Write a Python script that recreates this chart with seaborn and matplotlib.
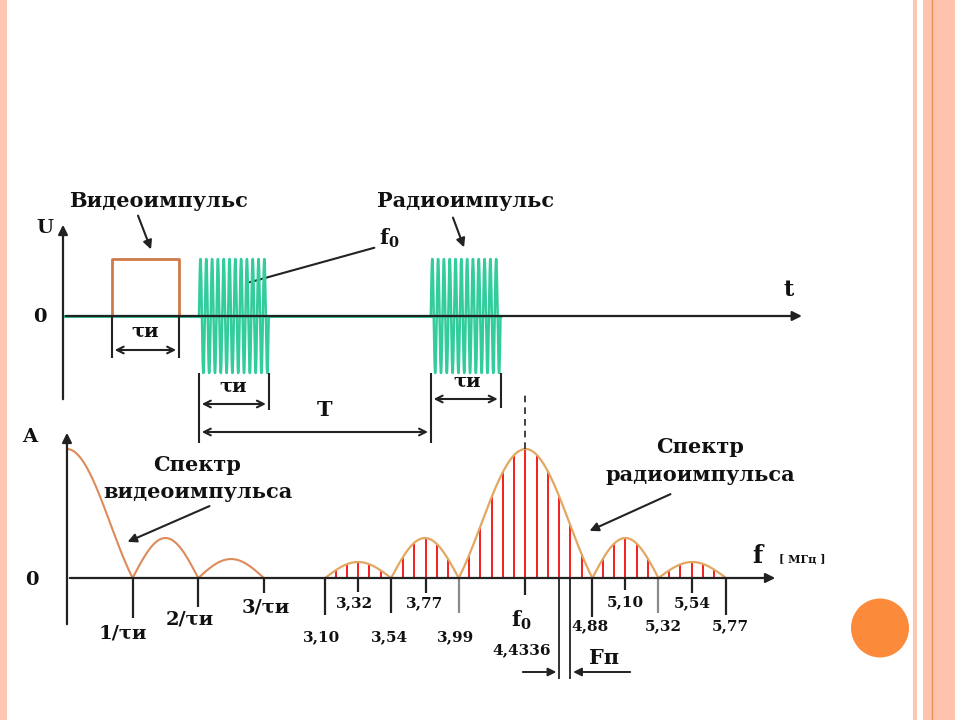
# Video pulse / radio pulse and their spectra (slide diagram)
import numpy as np
import matplotlib
matplotlib.use("Agg")
import matplotlib.pyplot as plt
from matplotlib.patches import Ellipse
import seaborn as sns

# ---------------- data ----------------
# time diagram: time in units of the pulse length τи, amplitude in units of U
VIDEO_PULSE = [0.73, 1.73]           # start / end of the video pulse
PULSE_HEIGHT = 1.0
BURST_STARTS = [2.03, 5.49]          # the two radio pulses (period T between them)
BURST_LENGTH = 1.04
BURST_CYCLES = 12                    # carrier periods drawn in one burst
TIME_AXIS_END = 11.07

# spectrum of the video pulse, x in multiples of 1/τи
VIDEO_ZEROS = [0, 1, 2, 3]
VIDEO_LOBE_PEAKS = [1.0, 0.31, 0.147]
VIDEO_TICK_LABELS = ["1/τи", "2/τи", "3/τи"]

# spectrum of the radio pulse, MHz
RADIO_ZEROS = [3.10, 3.54, 3.99, 4.88, 5.32, 5.77]
RADIO_CENTERS = [3.32, 3.77, 4.4336, 5.10, 5.54]
RADIO_LOBE_PEAKS = [0.124, 0.31, 1.0, 0.31, 0.124]
RADIO_LINES_PER_SIDE = [2, 2, 5, 2, 2]
F_REP = 0.075                        # spacing of the spectral lines, Fп
F0 = 4.4336
FREQ_TICKS = [3.10, 3.32, 3.54, 3.77, 3.99, 4.4336, 4.88, 5.10, 5.32, 5.54, 5.77]
FREQ_TICK_LABELS = ["3,10", "3,32", "3,54", "3,77", "3,99", "4,4336",
                    "4,88", "5,10", "5,32", "5,54", "5,77"]

# ---------------- layout (pixels of the 955x720 slide) ----------------
W, H = 955, 720
TOP_X0, TOP_SX, TOP_Y0, TOP_SY = 63, 67.0, 316, 57.0
BOT_X0, BOT_SX, BOT_Y0, BOT_SY = -140.6, 150.2, 578, 129.0
VIDEO_X0 = 1.382        # where f = 0 of the video spectrum sits on the drawn axis
INV_TAU = 0.437         # drawn width of 1/τи on that axis

VIDEO_TICK_BOTTOM = [618, 607, 593]
VIDEO_LABEL_POS = [(123, 634), (190, 620), (266, 608)]
FREQ_TICK_BOTTOM = [615, 592, 613, 593, 613, 595, 617, 590, 613, 593, 615]
FREQ_TICK_GREY = [False, False, False, False, True, False, False, False, True, False, False]
FREQ_LABEL_Y = [637, 603, 637, 603, 637, 650, 626, 602, 626, 603, 626]
FREQ_LABEL_DX = [-3, -4, -2, -1, -3, -4, -2, 0, 5, 1, 4]

GREEN = "#33cc9c"
RECT_C = "#cf7a4a"
VIDEO_C = "#dc8b5a"
ENV_C = "#e2a862"
RED = "#f41e1e"
AX_C = "#222222"
PEACH = "#ffc6b2"

sns.set_style("white")
plt.rcParams["font.family"] = ["DejaVu Serif"]
plt.rcParams["font.weight"] = "bold"
plt.rcParams["text.color"] = "#111111"
plt.rcParams["mathtext.fontset"] = "dejavuserif"

fig = plt.figure(figsize=(W / 100, H / 100), dpi=100)


def overlay(x0, sx, y0, sy):
    """Transparent full-slide axes: data (0, 0) at pixel (x0, y0), sx/sy px per unit."""
    ax = fig.add_axes([0, 0, 1, 1])
    ax.set_xlim(-x0 / sx, (W - x0) / sx)
    ax.set_ylim(-(H - y0) / sy, y0 / sy)
    ax.axis("off")
    ax.patch.set_alpha(0)
    return ax


def ty(py):
    return (TOP_Y0 - py) / TOP_SY


def fy(py):
    return (BOT_Y0 - py) / BOT_SY


def fx(px):
    return (px - BOT_X0) / BOT_SX


def lobe_shape(x, a, b, main):
    u = (x - a) / (b - a)
    if main:
        return np.sinc(2 * u - 1)
    return np.sin(np.pi * u)


# background slide decoration (pixel coordinates)
bg = fig.add_axes([0, 0, 1, 1])
bg.set_xlim(0, W)
bg.set_ylim(H, 0)
bg.axis("off")
bg.axvspan(0, 7, color=PEACH, lw=0)
bg.axvspan(913, 917, color=PEACH, lw=0)
bg.axvspan(923, W, color="#ffc3ad", lw=0)
bg.axvline(931.5, color="#e39452", lw=1.0)
bg.add_patch(Ellipse((880, 628), 58, 59, color="#fb8a3b", lw=0))

# ---------------- time diagram ----------------
ax_t = overlay(TOP_X0, TOP_SX, TOP_Y0, TOP_SY)
arrow_axis = dict(arrowstyle="-|>", color=AX_C, lw=1.6, mutation_scale=14)
ax_t.annotate("", xy=(0, ty(222)), xytext=(0, ty(402)), arrowprops=arrow_axis)
ax_t.annotate("", xy=(TIME_AXIS_END, 0), xytext=(0, 0), arrowprops=arrow_axis)
burst_end = BURST_STARTS[-1] + BURST_LENGTH
ax_t.plot([0, burst_end], [0, 0], color=GREEN, lw=2.2)

s, e = VIDEO_PULSE
sns.lineplot(x=[s, s, e, e], y=[0, PULSE_HEIGHT, PULSE_HEIGHT, 0], ax=ax_t,
             color=RECT_C, linewidth=2.0, sort=False, estimator=None)

for b in BURST_STARTS:
    t = np.linspace(b, b + BURST_LENGTH, 1500)
    u = np.sin(2 * np.pi * BURST_CYCLES * (t - b) / BURST_LENGTH)
    sns.lineplot(x=t, y=u, ax=ax_t, color=GREEN, linewidth=1.8,
                 sort=False, estimator=None)

dim = dict(arrowstyle="<->", color=AX_C, lw=1.5, mutation_scale=12)
ext = dict(color=AX_C, lw=1.5)
# τи of the video pulse
ax_t.vlines([s, e], ty(358), 0, **ext)
ax_t.annotate("", xy=(s, ty(350)), xytext=(e, ty(350)), arrowprops=dim)
# τи of the radio pulses and the period T
b1, b2 = BURST_STARTS
ax_t.vlines([b1, b2], ty(443), -1, **ext)
ax_t.vlines(b1 + BURST_LENGTH, ty(410), -1, **ext)
ax_t.vlines(b2 + BURST_LENGTH, ty(408), -1, **ext)
ax_t.annotate("", xy=(b1, ty(404)), xytext=(b1 + BURST_LENGTH, ty(404)), arrowprops=dim)
ax_t.annotate("", xy=(b2, ty(399)), xytext=(b2 + BURST_LENGTH, ty(399)), arrowprops=dim)
ax_t.annotate("", xy=(b1, ty(432)), xytext=(b2, ty(432)), arrowprops=dim)

# ---------------- spectra ----------------
ax_f = overlay(BOT_X0, BOT_SX, BOT_Y0, BOT_SY)
ax_f.annotate("", xy=(VIDEO_X0, fy(430)), xytext=(VIDEO_X0, fy(627)), arrowprops=arrow_axis)
ax_f.annotate("", xy=(fx(778), 0), xytext=(VIDEO_X0, 0), arrowprops=arrow_axis)

# video-pulse spectrum
vx, vy = [], []
for i, peak in enumerate(VIDEO_LOBE_PEAKS):
    a, b = VIDEO_ZEROS[i], VIDEO_ZEROS[i + 1]
    x = np.linspace(a, b, 200)
    y = peak * (np.sinc(x) if i == 0 else np.sin(np.pi * (x - a) / (b - a)))
    vx.append(VIDEO_X0 + x * INV_TAU)
    vy.append(y)
sns.lineplot(x=np.concatenate(vx), y=np.concatenate(vy), ax=ax_f, color=VIDEO_C,
             linewidth=1.5, sort=False, estimator=None)

# radio-pulse spectrum: line spectrum under a sinc-like envelope
rx, ry, lx, lh = [], [], [], []
for i, peak in enumerate(RADIO_LOBE_PEAKS):
    a, b = RADIO_ZEROS[i], RADIO_ZEROS[i + 1]
    main = peak == max(RADIO_LOBE_PEAKS)
    x = np.linspace(a, b, 300)
    rx.append(x)
    ry.append(peak * lobe_shape(x, a, b, main))
    n = RADIO_LINES_PER_SIDE[i]
    xs = RADIO_CENTERS[i] + F_REP * np.arange(-n, n + 1)
    lx.append(xs)
    lh.append(peak * lobe_shape(xs, a, b, main))
lx, lh = np.concatenate(lx), np.concatenate(lh)
ax_f.vlines(lx, 0, lh, color=RED, lw=1.4)
sns.lineplot(x=np.concatenate(rx), y=np.concatenate(ry), ax=ax_f, color=ENV_C,
             linewidth=1.6, sort=False, estimator=None)

# dashed marker above f0
ax_f.plot([F0, F0], [1.0, fy(393)], color=AX_C, lw=1.2, ls=(0, (4, 3)))

# ticks and their labels
for k, lab, bot, (lxp, lyp) in zip(VIDEO_ZEROS[1:], VIDEO_TICK_LABELS,
                                   VIDEO_TICK_BOTTOM, VIDEO_LABEL_POS):
    ax_f.vlines(VIDEO_X0 + k * INV_TAU, fy(bot), 0, color=AX_C, lw=1.6)
    bg.text(lxp, lyp, lab, fontsize=14, ha="center", va="center")

for f, lab, bot, grey, ly, dx in zip(FREQ_TICKS, FREQ_TICK_LABELS, FREQ_TICK_BOTTOM,
                                     FREQ_TICK_GREY, FREQ_LABEL_Y, FREQ_LABEL_DX):
    ax_f.vlines(f, fy(bot), 0, color="#8a8a8a" if grey else AX_C, lw=1.6)
    px = BOT_X0 + f * BOT_SX + dx
    bg.text(px, ly, lab, fontsize=11, ha="center", va="center")
bg.text(BOT_X0 + F0 * BOT_SX - 4, 620, r"$\mathbf{f_0}$", fontsize=15, ha="center", va="center")

# Fп: two neighbouring lines of the main lobe carried down
fp_lines = F0 + F_REP * np.array([3, 4])
ax_f.vlines(fp_lines, fy(679), 0, color=AX_C, lw=1.3)
head = dict(arrowstyle="-|>", color=AX_C, lw=1.4, mutation_scale=12)
ax_f.annotate("", xy=(fp_lines[0], fy(672)), xytext=(fx(520), fy(672)), arrowprops=head)
ax_f.annotate("", xy=(fp_lines[1], fy(672)), xytext=(fx(633), fy(672)), arrowprops=head)

# ---------------- texts and pointers ----------------
big = dict(fontsize=15, ha="center", va="center")
bg.text(158, 201, "Видеоимпульс", **big)
bg.text(466, 201, "Радиоимпульс", **big)
bg.text(45, 228, "U", fontsize=14, ha="center", va="center")
bg.text(40, 317, "0", fontsize=14, ha="center", va="center")
bg.text(789, 290, "t", fontsize=16, ha="center", va="center")
bg.text(389, 238, r"$\mathbf{f_0}$", fontsize=15, ha="center", va="center")
bg.text(145, 332, "τи", fontsize=14, ha="center", va="center")
bg.text(233, 387, "τи", fontsize=14, ha="center", va="center")
bg.text(467, 382, "τи", fontsize=14, ha="center", va="center")
bg.text(325, 410, "T", **big)
bg.text(30, 437, "A", fontsize=14, ha="center", va="center")
bg.text(32, 580, "0", fontsize=14, ha="center", va="center")
bg.text(197, 465, "Спектр", **big)
bg.text(198, 492, "видеоимпульса", **big)
bg.text(700, 447, "Спектр", **big)
bg.text(700, 475, "радиоимпульса", **big)
bg.text(757, 556, "f", fontsize=17, ha="center", va="center")
bg.text(802, 559, "[ МГц ]", fontsize=8, ha="center", va="center")
bg.text(604, 658, "Fп", **big)

pointer = dict(arrowstyle="-|>", color=AX_C, lw=1.5, mutation_scale=13)
bg.annotate("", xy=(152, 252), xytext=(137, 213), arrowprops=pointer)
bg.annotate("", xy=(465, 250), xytext=(452, 215), arrowprops=pointer)
bg.annotate("", xy=(247, 283), xytext=(377, 247),
            arrowprops=dict(arrowstyle="-", color=AX_C, lw=1.5))
bg.annotate("", xy=(125, 543), xytext=(212, 505), arrowprops=pointer)
bg.annotate("", xy=(587, 532), xytext=(673, 493), arrowprops=pointer)

fig.savefig("out.png", dpi=100)
